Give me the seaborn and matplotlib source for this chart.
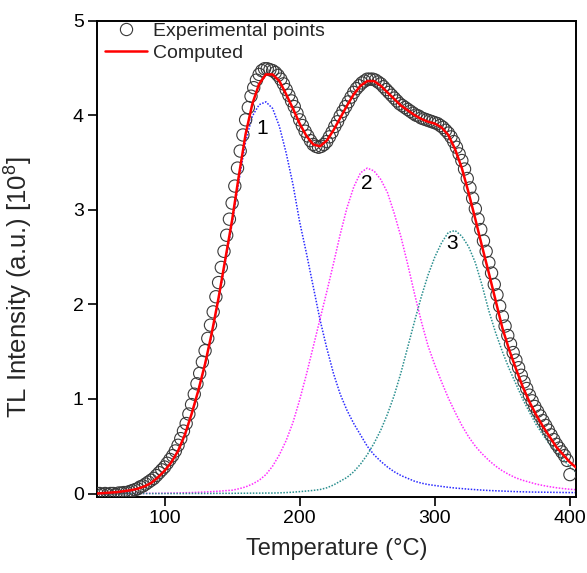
import numpy as np
import pandas as pd
import matplotlib
matplotlib.use("Agg")
import matplotlib.pyplot as plt
import seaborn as sns
from matplotlib.lines import Line2D

# ---------------- data ----------------
# component / computed curves sampled every 5 degC
temp_fit = [50, 55, 60, 65, 70, 75, 80, 85, 90, 95, 100, 105, 110, 115, 120, 125, 130, 135,
            140, 145, 150, 155, 160, 165, 170, 175, 180, 185, 190, 195, 200, 205, 210, 215,
            220, 225, 230, 235, 240, 245, 250, 255, 260, 265, 270, 275, 280, 285, 290, 295,
            300, 305, 310, 315, 320, 325, 330, 335, 340, 345, 350, 355, 360, 365, 370, 375,
            380, 385, 390, 395, 400, 405]

computed = [0.00, 0.005, 0.01, 0.015, 0.025, 0.035, 0.05, 0.075, 0.11, 0.17, 0.24, 0.33, 0.45,
            0.62, 0.84, 1.09, 1.37, 1.70, 2.07, 2.48, 2.89, 3.36, 3.80, 4.12, 4.33, 4.43, 4.43,
            4.36, 4.22, 4.07, 3.91, 3.78, 3.69, 3.67, 3.73, 3.84, 3.97, 4.10, 4.22, 4.31, 4.36,
            4.36, 4.31, 4.24, 4.17, 4.10, 4.05, 4.00, 3.96, 3.93, 3.91, 3.87, 3.79, 3.64, 3.44,
            3.18, 2.90, 2.61, 2.33, 2.04, 1.75, 1.52, 1.32, 1.13, 0.97, 0.83, 0.71, 0.60, 0.49,
            0.41, 0.33, 0.27]

peak1 = [0.00, 0.00, 0.005, 0.01, 0.02, 0.03, 0.05, 0.075, 0.11, 0.17, 0.24, 0.33, 0.45, 0.61,
         0.83, 1.08, 1.36, 1.68, 2.05, 2.45, 2.85, 3.30, 3.72, 3.99, 4.11, 4.14, 4.07, 3.88,
         3.60, 3.27, 2.87, 2.54, 2.19, 1.84, 1.54, 1.27, 1.05, 0.88, 0.74, 0.62, 0.50, 0.41,
         0.34, 0.28, 0.23, 0.19, 0.16, 0.13, 0.11, 0.095, 0.085, 0.075, 0.066, 0.058, 0.052,
         0.046, 0.041, 0.036, 0.032, 0.029, 0.026, 0.023, 0.020, 0.018, 0.016, 0.015, 0.014,
         0.013, 0.012, 0.011, 0.010, 0.010]

peak2 = [0.00, 0.00, 0.00, 0.00, 0.00, 0.00, 0.001, 0.001, 0.002, 0.002, 0.003, 0.004, 0.006,
         0.008, 0.010, 0.013, 0.016, 0.020, 0.024, 0.030, 0.035, 0.050, 0.070, 0.10, 0.14,
         0.20, 0.29, 0.41, 0.56, 0.75, 0.99, 1.26, 1.55, 1.84, 2.13, 2.43, 2.74, 3.02, 3.24,
         3.39, 3.44, 3.41, 3.32, 3.18, 2.96, 2.71, 2.42, 2.11, 1.82, 1.56, 1.36, 1.18, 1.01,
         0.86, 0.72, 0.60, 0.50, 0.42, 0.35, 0.29, 0.24, 0.20, 0.165, 0.14, 0.12, 0.10, 0.085,
         0.072, 0.061, 0.052, 0.045, 0.040]

peak3 = [0.00, 0.00, 0.00, 0.00, 0.00, 0.00, 0.00, 0.00, 0.00, 0.00, 0.00, 0.00, 0.00, 0.00,
         0.001, 0.001, 0.001, 0.001, 0.002, 0.002, 0.002, 0.003, 0.003, 0.004, 0.004, 0.005,
         0.005, 0.007, 0.010, 0.014, 0.020, 0.026, 0.033, 0.042, 0.060, 0.090, 0.13, 0.17,
         0.23, 0.31, 0.41, 0.53, 0.67, 0.84, 1.04, 1.28, 1.55, 1.82, 2.08, 2.31, 2.50, 2.65,
         2.76, 2.78, 2.72, 2.61, 2.44, 2.20, 1.93, 1.70, 1.50, 1.32, 1.16, 1.00, 0.86, 0.73,
         0.62, 0.52, 0.44, 0.36, 0.28, 0.22]

# experimental points every 2 degC
temp_exp = list(range(50, 401, 2))
experimental = [
    0.00, 0.00, -0.01, 0.00, -0.01, 0.00, 0.00, -0.01, 0.005, 0.005,   # 50-68
    0.01, 0.01, 0.02, 0.03, 0.04, 0.05, 0.07, 0.08, 0.10, 0.12,        # 70-88
    0.14, 0.16, 0.19, 0.22, 0.25, 0.28, 0.32, 0.36, 0.40, 0.45,        # 90-108
    0.51, 0.58, 0.66, 0.74, 0.84, 0.94, 1.05, 1.16, 1.27, 1.39,        # 110-128
    1.51, 1.64, 1.78, 1.92, 2.08, 2.23, 2.39, 2.56, 2.73, 2.90,        # 130-148
    3.07, 3.25, 3.44, 3.62, 3.79, 3.95, 4.08, 4.20, 4.29, 4.37,        # 150-168
    4.43, 4.47, 4.49, 4.49, 4.48, 4.47, 4.45, 4.42, 4.38, 4.33,        # 170-188
    4.27, 4.21, 4.15, 4.09, 4.02, 3.95, 3.89, 3.83, 3.78, 3.73,        # 190-208
    3.69, 3.67, 3.66, 3.67, 3.69, 3.72, 3.77, 3.82, 3.88, 3.93,        # 210-228
    3.99, 4.04, 4.09, 4.14, 4.19, 4.24, 4.28, 4.31, 4.34, 4.36,        # 230-248
    4.38, 4.38, 4.38, 4.37, 4.35, 4.33, 4.30, 4.27, 4.24, 4.21,        # 250-268
    4.18, 4.15, 4.12, 4.10, 4.08, 4.06, 4.04, 4.02, 4.00, 3.99,        # 270-288
    3.97, 3.96, 3.95, 3.94, 3.93, 3.92, 3.91, 3.89, 3.87, 3.84,        # 290-308
    3.81, 3.77, 3.72, 3.66, 3.59, 3.52, 3.43, 3.33, 3.23, 3.12,        # 310-328
    3.01, 2.90, 2.79, 2.67, 2.56, 2.44, 2.33, 2.21, 2.10, 1.98,        # 330-348
    1.87, 1.77, 1.67, 1.58, 1.49, 1.41, 1.33, 1.25, 1.18, 1.11,        # 350-368
    1.04, 0.98, 0.92, 0.87, 0.82, 0.77, 0.72, 0.67, 0.62, 0.57,        # 370-388
    0.52, 0.48, 0.44, 0.40, 0.35, 0.20]                                # 390-400

peak_labels = ["1", "2", "3"]
label_T = [172.4, 249.4, 312.4]
label_I = [3.86, 3.28, 2.64]

legend_labels = ["Experimental points", "Computed"]
x_label = "Temperature (°C)"
y_label = r"TL Intensity (a.u.) [10$^8$]"
x_ticks = [100, 200, 300, 400]
y_ticks = [0, 1, 2, 3, 4, 5]

# ---------------- styling ----------------
sns.set_theme(style="white")
plt.rcParams["font.family"] = ["Liberation Sans", "DejaVu Sans"]
plt.rcParams["mathtext.default"] = "regular"

fig = plt.figure(figsize=(5.87, 5.73), dpi=100)
ax = fig.add_axes([0.1652, 0.1326, 0.9813 - 0.1652, 0.9642 - 0.1326])

fit_df = pd.DataFrame({"T": temp_fit, "computed": computed,
                       "p1": peak1, "p2": peak2, "p3": peak3})
exp_df = pd.DataFrame({"T": temp_exp, "I": experimental})

dot = (0, (1, 1))
sns.lineplot(data=fit_df, x="T", y="p1", ax=ax, color="#2a2aff", lw=1.1,
             linestyle=dot, zorder=2)
sns.lineplot(data=fit_df, x="T", y="p2", ax=ax, color="#ff2cff", lw=1.1,
             linestyle=dot, zorder=2)
sns.lineplot(data=fit_df, x="T", y="p3", ax=ax, color="#2a8f8f", lw=1.1,
             linestyle=dot, zorder=2)

sns.scatterplot(data=exp_df, x="T", y="I", ax=ax, marker="o", s=78,
                color="#3a3a3a", facecolors="none", edgecolor="#3a3a3a",
                linewidth=0.8, zorder=3)

sns.lineplot(data=fit_df, x="T", y="computed", ax=ax, color="#ff0000", lw=1.8, zorder=4)

for lab, tx, ty in zip(peak_labels, label_T, label_I):
    ax.text(tx, ty, lab, fontsize=15, ha="center", va="center", color="black")

ax.set_xlim(50, 404.5)
ax.set_ylim(-0.037, 5)
ax.set_xticks(x_ticks)
ax.set_yticks(y_ticks)
ax.set_xlabel(x_label, fontsize=17, labelpad=8)
ax.set_ylabel(y_label, fontsize=18.5, labelpad=0)
ax.yaxis.set_label_coords(-0.13, 0.44)
ax.tick_params(axis="both", which="major", direction="out", length=6.5, width=1.2,
               labelsize=14, pad=3, color="black", labelcolor="black",
               bottom=True, left=True, top=False, right=False)
for sp in ax.spines.values():
    sp.set_visible(True)
    sp.set_color("black")
    sp.set_linewidth(1.4)
ax.grid(False)

handles = [Line2D([], [], marker="o", linestyle="none", markersize=8.8,
                  markerfacecolor="none", markeredgecolor="#3a3a3a", markeredgewidth=0.8),
           Line2D([], [], color="#ff0000", lw=1.8)]
leg = ax.legend(handles, legend_labels, loc="upper left", bbox_to_anchor=(0.012, 1.0),
                frameon=False, fontsize=14, handlelength=2.2, handletextpad=0.3,
                labelspacing=0.22, borderpad=0.1, borderaxespad=0.0, numpoints=1)

fig.savefig("out.png", dpi=100)
